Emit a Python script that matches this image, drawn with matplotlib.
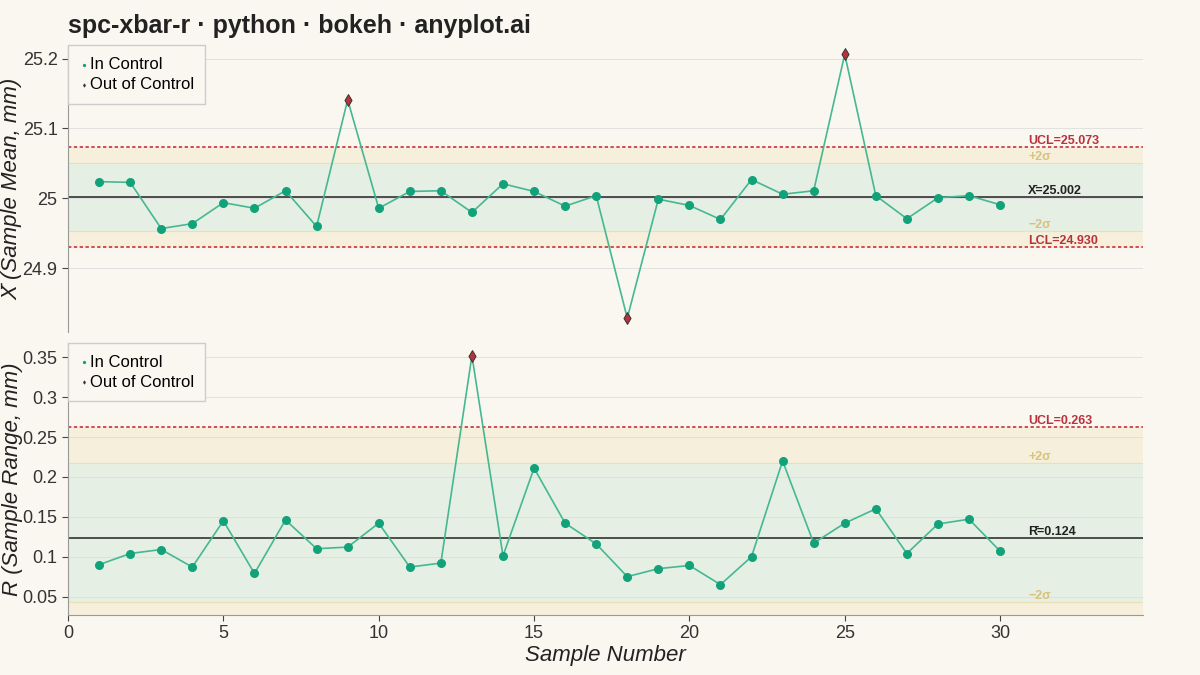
import matplotlib
matplotlib.use("Agg")
import matplotlib.pyplot as plt
import numpy as np

plt.rcParams['font.family'] = ['Liberation Sans', 'DejaVu Sans']

samples = list(range(1, 31))
xbar = [25.024, 25.023, 24.957, 24.964, 24.994, 24.986, 25.011, 24.960, 25.141, 24.986,
        25.010, 25.011, 24.980, 25.021, 25.010, 24.989, 25.004, 24.829, 24.999, 24.990,
        24.970, 25.027, 25.006, 25.011, 25.206, 25.004, 24.971, 25.001, 25.004, 24.991]
rng = [0.090, 0.104, 0.109, 0.087, 0.145, 0.079, 0.146, 0.110, 0.112, 0.142,
       0.087, 0.092, 0.352, 0.101, 0.211, 0.142, 0.116, 0.075, 0.085, 0.089,
       0.065, 0.100, 0.220, 0.117, 0.142, 0.160, 0.104, 0.141, 0.147, 0.107]
x_cl, x_ucl, x_lcl, x_p2, x_m2 = 25.002, 25.073, 24.930, 25.050, 24.954
r_cl, r_ucl, r_p2, r_m2 = 0.124, 0.263, 0.217, 0.043

BG = "#faf7f0"
GREEN = "#12a27a"
LINE = "#45b892"
RED = "#b8323c"
YEL = "#d9c27a"

fig = plt.figure(figsize=(12, 6.75), dpi=100, facecolor=BG)
ax1 = fig.add_axes([0.0567, 0.508, 0.8958, 0.425], facecolor=BG)
ax2 = fig.add_axes([0.0567, 0.089, 0.8958, 0.403], facecolor=BG)
fig.text(0.0567, 0.962, "spc-xbar-r · python · bokeh · anyplot.ai", fontsize=18,
         fontweight="bold", color="#222222", va="center")

def panel(ax, vals, cl, ucl, p2, m2, ylo, yhi, lcl=None, clabel="", ucl_lbl="", lcl_lbl=""):
    ax.set_xlim(0, 34.6)
    ax.set_ylim(ylo, yhi)
    ax.axhspan(m2, p2, color="#e3efe3", alpha=0.9, zorder=0)
    lo_band = lcl if lcl is not None else ylo
    ax.axhspan(p2, ucl, color="#f5efdc", zorder=0)
    ax.axhspan(lo_band, m2, color="#f5efdc", zorder=0)
    ax.axhline(p2, color="#eadfb5", lw=0.8, zorder=1)
    ax.axhline(m2, color="#eadfb5", lw=0.8, zorder=1)
    ax.grid(axis="y", color="#dddddd", lw=0.6, zorder=0.5)
    ax.set_axisbelow(True)
    ax.axhline(cl, color="#222222", lw=1.1, zorder=2)
    ax.axhline(ucl, color="#c8323c", lw=1.2, ls=(0, (2, 1.5)), zorder=2)
    if lcl is not None:
        ax.axhline(lcl, color="#c8323c", lw=1.2, ls=(0, (2, 1.5)), zorder=2)
    ax.plot(samples, vals, color=LINE, lw=1.2, zorder=3)
    inn = [(s, v) for s, v in zip(samples, vals) if (lcl is None or v >= lcl) and v <= ucl]
    out = [(s, v) for s, v in zip(samples, vals) if not ((lcl is None or v >= lcl) and v <= ucl)]
    ax.scatter(*zip(*inn), s=30, color=GREEN, zorder=4, label="In Control")
    ax.scatter(*zip(*out), s=36, marker="d", color=RED, edgecolor="#333333", lw=0.7,
               zorder=5, label="Out of Control")
    xt = 30.9
    kw = dict(fontsize=9, fontweight="bold", va="bottom")
    ax.text(xt, ucl, ucl_lbl, color=RED, **kw)
    ax.text(xt, cl, clabel, color="#222222", **kw)
    ax.text(xt, p2, "+2σ", color=YEL, **kw)
    ax.text(xt, m2, "−2σ", color=YEL, **kw)
    if lcl is not None:
        ax.text(xt, lcl, lcl_lbl, color=RED, **kw)
    for s in ["top", "right"]:
        ax.spines[s].set_visible(False)
    ax.spines["left"].set_color("#999999")
    ax.spines["bottom"].set_color("#999999")
    ax.tick_params(labelsize=13, colors="#444444", length=4)
    ax.tick_params(axis="both", labelcolor="#333333")
    leg = ax.legend(loc="upper left", fontsize=12, markerscale=0.25, handletextpad=0.1,
                    handlelength=0.5, facecolor=BG, edgecolor="#cccccc", framealpha=1,
                    borderpad=0.4, labelspacing=0.3, borderaxespad=0.3)
    leg.get_frame().set_boxstyle("square")

panel(ax1, xbar, x_cl, x_ucl, x_p2, x_m2, 24.809, 25.219, lcl=x_lcl,
      clabel="X̄=25.002", ucl_lbl="UCL=25.073", lcl_lbl="LCL=24.930")
ax1.set_yticks([24.9, 25.0, 25.1, 25.2])
ax1.set_yticklabels(["24.9", "25", "25.1", "25.2"])
ax1.set_xticks([])
ax1.spines["bottom"].set_visible(False)
ax1.set_ylabel("X̄ (Sample Mean, mm)", fontsize=16, style="italic", color="#222222")

panel(ax2, rng, r_cl, r_ucl, r_p2, r_m2, 0.027, 0.368,
      clabel="R̄=0.124", ucl_lbl="UCL=0.263")
ax2.set_yticks([0.05, 0.1, 0.15, 0.2, 0.25, 0.3, 0.35])
ax2.set_yticklabels(["0.05", "0.1", "0.15", "0.2", "0.25", "0.3", "0.35"])
ax2.set_xticks([0, 5, 10, 15, 20, 25, 30])
ax2.set_ylabel("R (Sample Range, mm)", fontsize=16, style="italic", color="#222222")
ax2.set_xlabel("Sample Number", fontsize=16, style="italic", color="#222222", labelpad=2)
ax1.yaxis.set_label_coords(-0.042, 0.5)
ax2.yaxis.set_label_coords(-0.042, 0.5)

fig.savefig("out.png", dpi=100, facecolor=BG)
